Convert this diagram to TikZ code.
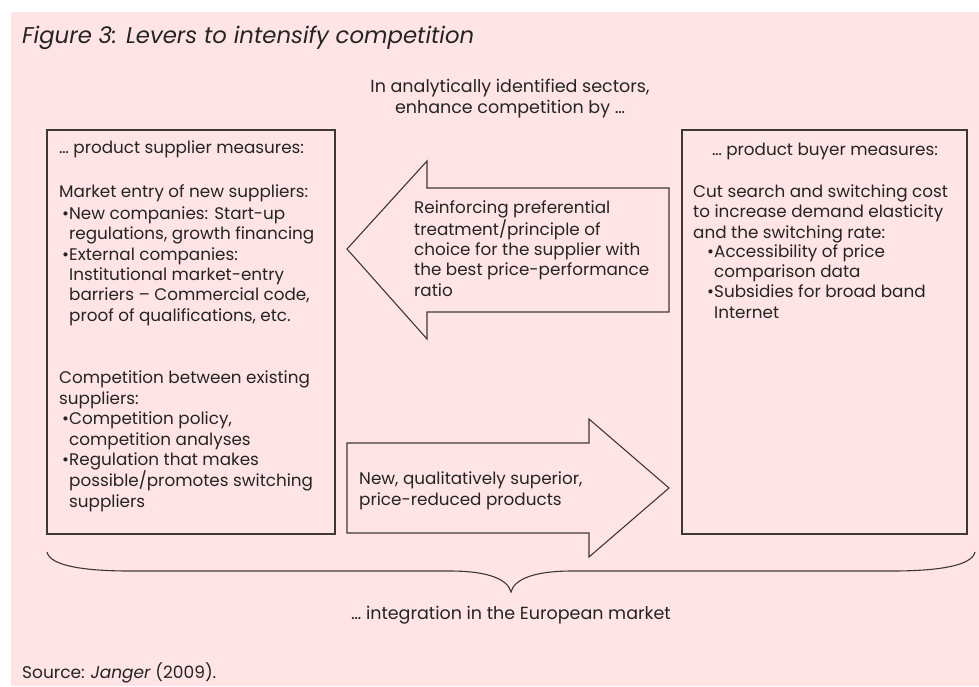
\documentclass[tikz,border=0pt]{standalone}
\usepackage{fontspec}
\setmainfont{Poppins}
\definecolor{bgpink}{RGB}{255,228,230}
\definecolor{linegray}{RGB}{60,56,56}
\definecolor{txtgray}{RGB}{36,36,36}
\newcommand{\bodyfont}{\fontsize{16.8}{20.3}\selectfont}
\newcommand{\bul}{\makebox[7pt][l]{\textbullet}}
\newcommand{\ind}{\hspace*{7pt}}
\begin{document}
\begin{tikzpicture}[
    x=1pt, y=-1pt,
    txt/.style={inner sep=0pt, anchor=base west, align=left, font=\bodyfont, text=txtgray},
    ctxt/.style={txt, anchor=base, align=center},
    panel/.style={draw=linegray, line width=1.1pt},
    blockarrow/.style={draw=linegray, fill=bgpink, line width=1.1pt, line join=miter}
  ]
    \useasboundingbox (0,0) rectangle (979,686);
    \fill[bgpink] (11,12) rectangle (979,686);

    % Title and intro (multi-line nodes sit on their last line)
    \node[txt, font=\fontsize{22.8}{26}\selectfont\itshape] (title) at (22,43) {Figure 3: Levers to intensify competition};
    \node[ctxt, font=\fontsize{17.5}{21}\selectfont] (intro) at (510,113) {In analytically identified sectors,\\enhance competition by \dots};

    % Boxes
    \draw[panel] (47,130) rectangle (335,534);
    \draw[panel] (682,130) rectangle (967,534);

    % Supplier side
    \node[txt] (supplier) at (59,153) {\dots\ product supplier measures:};
    \node[txt] (entry) at (59,197) {Market entry of new suppliers:};
    \node[txt] (entrylist) at (62,321) {\bul New companies: Start-up\\
      \ind regulations, growth financing\\
      \bul External companies:\\
      \ind Institutional market-entry\\
      \ind barriers -- Commercial code,\\
      \ind proof of qualifications, etc.};
    \node[txt] (existing) at (59,404) {Competition between existing\\suppliers:};
    \node[txt] (existlist) at (62,507) {\bul Competition policy,\\
      \ind competition analyses\\
      \bul Regulation that makes\\
      \ind possible/promotes switching\\
      \ind suppliers};

    % Buyer side
    \node[ctxt] (buyer) at (825,155) {\dots\ product buyer measures:};
    \node[txt] (search) at (693,238) {Cut search and switching cost\\
      to increase demand elasticity\\
      and the switching rate:};
    \node[txt] (searchlist) at (707,318) {\bul Accessibility of price\\
      \ind comparison data\\
      \bul Subsidies for broad band\\
      \ind Internet};

    % Arrows
    \draw[blockarrow] (347,249) -- (427,161) -- (427,188) -- (669,188)
      -- (669,312) -- (427,312) -- (427,339) -- cycle;
    \node[txt] (choice) at (414,296) {Reinforcing preferential\\
      treatment/principle of\\
      choice for the supplier with\\
      the best price-performance\\
      ratio};
    \draw[blockarrow] (347,443) -- (589,443) -- (589,419) -- (669,488)
      -- (589,557) -- (589,533) -- (347,533) -- cycle;
    \node[txt] (products) at (359,505) {New, qualitatively superior,\\
      price-reduced products};

    % Brace
    \draw[linegray, line width=1.1pt] (47,552) .. controls (50,566) and (85,571) .. (130,571)
      -- (450,571) .. controls (490,571) and (508,580) .. (511,592)
      .. controls (514,580) and (532,571) .. (572,571) -- (892,571)
      .. controls (937,571) and (972,566) .. (975,552);
    \node[ctxt, font=\fontsize{17.5}{21}\selectfont] (market) at (511,619) {\dots\ integration in the European market};

    % Source
    \node[txt, font=\fontsize{17}{20}\selectfont] (source) at (22,678) {Source: \textit{Janger} (2009).};
\end{tikzpicture}
\end{document}
